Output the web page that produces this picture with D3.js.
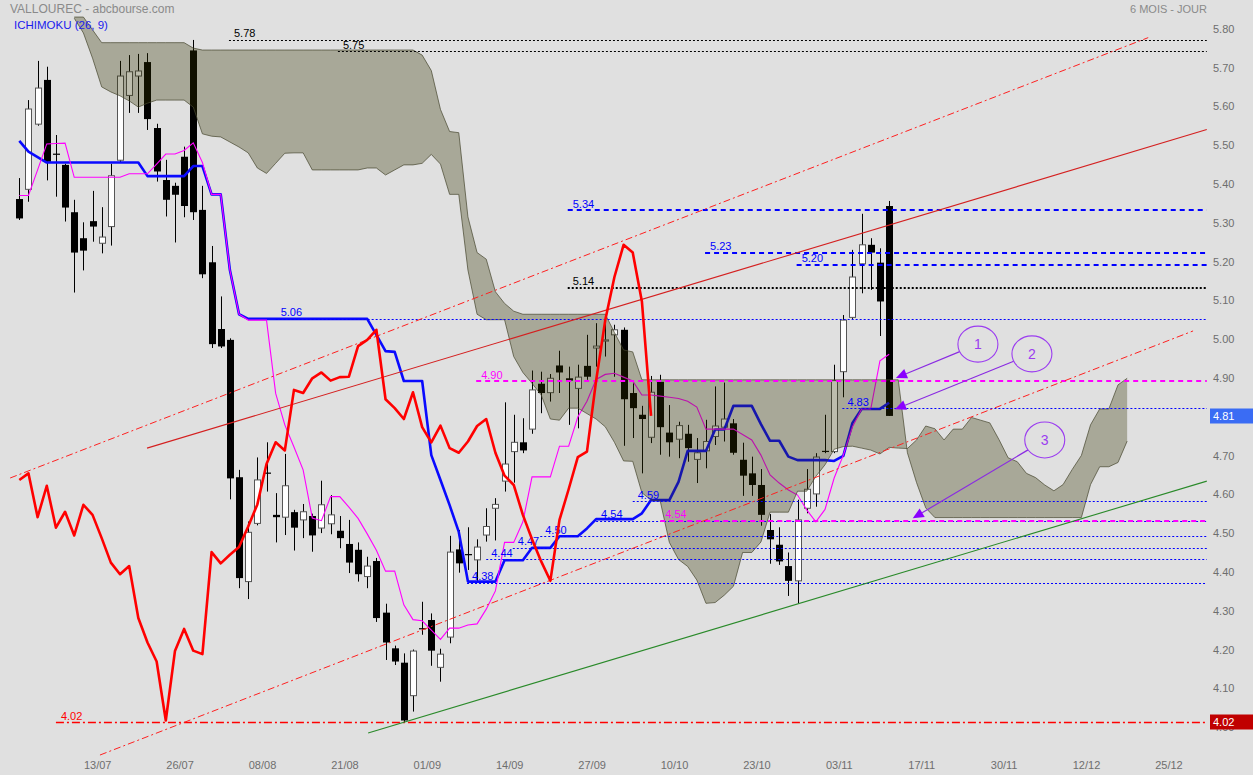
<!DOCTYPE html>
<html><head><meta charset="utf-8">
<script src="https://cdn.jsdelivr.net/npm/d3@7"></script>
<style>
html,body{margin:0;padding:0;background:#e0e0e0;}
svg{display:block;font-family:"Liberation Sans",Arial,Helvetica,sans-serif;}
</style></head><body>
<svg id="chart" width="1253" height="775"></svg>
<script>
// ---------- DATA (daily bars, index 0 = first visible session) ----------
const opens = [5.369,5.394,5.562,5.676,5.486,5.457,5.335,5.268,5.312,5.255,
5.298,5.469,5.636,5.686,5.722,5.552,5.418,5.403,5.478,5.752,
5.341,5.206,5.034,5.006,4.652,4.383,4.533,4.664,4.555,4.549,
4.562,4.542,4.552,4.521,4.532,4.514,4.480,4.465,4.396,4.436,
4.303,4.211,4.174,4.089,4.263,4.284,4.162,4.240,4.466,4.454,
4.439,4.503,4.572,4.642,4.718,4.742,4.776,4.893,4.870,4.940,
4.907,4.881,4.939,4.985,5.004,5.019,5.032,4.869,4.813,4.755,
4.898,4.767,4.750,4.764,4.698,4.720,4.757,4.781,4.791,4.697,
4.662,4.632,4.516,4.478,4.423,4.385,4.572,4.609,4.720,4.718,
4.924,5.064,5.202,5.251,5.205,5.351];
const highs = [5.423,5.624,5.725,5.710,5.534,5.460,5.367,5.309,5.390,5.348,
5.460,5.725,5.740,5.743,5.745,5.563,5.470,5.411,5.504,5.779,
5.403,5.248,5.118,5.010,4.671,4.538,4.703,4.742,4.611,4.712,
4.568,4.583,4.558,4.643,4.606,4.552,4.542,4.484,4.447,4.444,
4.326,4.218,4.198,4.208,4.331,4.301,4.210,4.501,4.516,4.523,
4.492,4.572,4.598,4.845,4.813,4.804,4.927,4.924,4.918,4.978,
4.937,4.942,5.019,5.049,5.068,5.045,5.038,4.894,4.836,4.913,
4.916,4.838,4.795,4.787,4.753,4.800,4.886,4.896,4.802,4.741,
4.705,4.673,4.557,4.523,4.458,4.594,4.673,4.714,4.813,4.942,
5.070,5.238,5.331,5.268,5.242,5.364];
const lows = [5.315,5.362,5.558,5.417,5.375,5.311,5.128,5.185,5.259,5.229,
5.249,5.462,5.591,5.591,5.547,5.414,5.324,5.257,5.322,5.315,
5.165,4.985,4.985,4.595,4.366,4.338,4.528,4.615,4.484,4.503,
4.463,4.495,4.460,4.508,4.505,4.469,4.405,4.383,4.366,4.279,
4.181,4.168,4.020,4.048,4.246,4.166,4.125,4.224,4.406,4.413,
4.383,4.486,4.489,4.615,4.638,4.714,4.764,4.817,4.847,4.869,
4.787,4.778,4.903,4.937,4.963,4.911,4.733,4.753,4.662,4.740,
4.710,4.705,4.701,4.692,4.637,4.675,4.735,4.744,4.710,4.604,
4.604,4.527,4.429,4.426,4.346,4.327,4.559,4.576,4.714,4.714,
4.858,5.060,5.126,5.135,5.016,4.810];
const closes = [5.319,5.601,5.655,5.465,5.483,5.347,5.231,5.236,5.298,5.271,
5.429,5.686,5.697,5.699,5.575,5.440,5.367,5.380,5.351,5.335,
5.175,4.995,4.989,4.649,4.392,4.510,4.645,4.662,4.549,4.630,
4.522,4.563,4.502,4.581,4.555,4.495,4.432,4.402,4.423,4.289,
4.226,4.177,4.025,4.204,4.261,4.205,4.196,4.459,4.430,4.452,
4.472,4.525,4.582,4.686,4.742,4.721,4.877,4.869,4.907,4.922,
4.901,4.910,4.911,4.990,5.006,5.032,4.853,4.830,4.802,4.871,
4.781,4.742,4.785,4.727,4.715,4.744,4.784,4.802,4.715,4.656,
4.632,4.555,4.492,4.435,4.385,4.542,4.621,4.704,4.718,4.901,
5.057,5.168,5.251,5.231,5.105,4.810];

// Ichimoku (26, 9)
const tenkan = [5.378,5.378,5.444,5.511,5.512,5.513,5.425,5.425,5.425,5.425,
5.425,5.425,5.434,5.434,5.434,5.459,5.485,5.485,5.494,5.514,
5.463,5.381,5.381,5.186,5.072,5.057,5.057,5.057,4.868,4.787,
4.730,4.671,4.547,4.540,4.602,4.602,4.575,4.546,4.506,4.464,
4.410,4.410,4.323,4.285,4.282,4.258,4.234,4.263,4.263,4.271,
4.274,4.312,4.359,4.484,4.484,4.537,4.653,4.653,4.653,4.732,
4.732,4.807,4.848,4.904,4.917,4.920,4.910,4.900,4.864,4.864,
4.861,4.858,4.855,4.848,4.833,4.776,4.776,4.776,4.776,4.762,
4.748,4.709,4.658,4.637,4.619,4.606,4.568,4.537,4.569,4.650,
4.709,4.782,4.828,4.828,4.952,4.969];
const kijun = [5.519,5.491,5.477,5.463,5.463,5.463,5.463,5.463,5.463,5.463,
5.463,5.463,5.463,5.463,5.428,5.428,5.428,5.428,5.428,5.454,
5.454,5.381,5.381,5.186,5.072,5.060,5.060,5.060,5.060,5.060,
5.060,5.060,5.060,5.060,5.060,5.060,5.060,5.060,5.060,5.019,
4.977,4.975,4.900,4.900,4.900,4.709,4.645,4.580,4.511,4.383,
4.383,4.383,4.383,4.438,4.438,4.438,4.470,4.470,4.470,4.500,
4.500,4.500,4.520,4.544,4.544,4.544,4.544,4.544,4.559,4.593,
4.593,4.593,4.640,4.720,4.720,4.720,4.775,4.775,4.836,4.836,
4.836,4.789,4.746,4.746,4.705,4.696,4.696,4.696,4.696,4.694,
4.707,4.792,4.828,4.828,4.828,4.844];
// cloud spans, already displaced 26 bars forward (index = bar where drawn)
const senkouA = [null,null,null,null,null,null,5.835,5.797,5.732,5.658,
5.645,5.635,5.622,5.606,5.616,5.624,5.624,5.624,5.624,5.606,
5.537,5.531,5.529,5.516,5.503,5.488,5.449,5.435,5.461,5.487,
5.488,5.488,5.444,5.444,5.444,5.444,5.444,5.444,5.449,5.449,
5.431,5.444,5.457,5.457,5.461,5.484,5.459,5.381,5.381,5.186,
5.072,5.058,5.058,5.058,4.963,4.922,4.894,4.864,4.802,4.799,
4.830,4.830,4.816,4.802,4.782,4.742,4.694,4.693,4.612,4.593,
4.591,4.484,4.440,4.422,4.387,4.327,4.329,4.348,4.371,4.458,
4.458,4.485,4.562,4.562,4.562,4.616,4.616,4.654,4.684,4.724,
4.731,4.732,4.727,4.722,4.712,4.729,4.727,4.726,4.748,4.784,
4.777,4.748,4.776,4.776,4.806,4.799,4.792,4.749,4.702,4.692,
4.662,4.651,4.632,4.617,4.633,4.672,4.708,4.787,4.828,4.828,
4.890,4.907];
const senkouB = [null,null,null,null,null,null,5.838,5.838,5.805,5.772,
5.772,5.772,5.772,5.772,5.772,5.772,5.772,5.772,5.772,5.758,
5.753,5.753,5.753,5.753,5.753,5.753,5.753,5.753,5.753,5.753,
5.753,5.753,5.753,5.753,5.753,5.753,5.753,5.753,5.753,5.753,
5.753,5.753,5.753,5.753,5.740,5.700,5.600,5.543,5.540,5.323,
5.231,5.214,5.130,5.100,5.080,5.072,5.072,5.072,5.072,5.072,
5.072,5.072,5.072,5.072,5.072,5.025,4.980,4.975,4.903,4.903,
4.903,4.903,4.903,4.903,4.903,4.903,4.903,4.903,4.903,4.903,
4.903,4.903,4.903,4.903,4.903,4.903,4.903,4.903,4.903,4.903,
4.903,4.903,4.903,4.903,4.903,4.903,4.903,4.715,4.638,4.573,
4.548,4.548,4.548,4.548,4.548,4.548,4.548,4.548,4.548,4.548,
4.548,4.548,4.548,4.548,4.548,4.548,4.548,4.633,4.679,4.679,
4.690,4.745];
const chikouShift = 26;

// date ticks (every 9 sessions)
const tickBars = [9,18,27,36,45,54,63,72,81,90,99,108,117,126];
const tickLabels = ["13/07","26/07","08/08","21/08","01/09","14/09","27/09","10/10","23/10","03/11","17/11","30/11","12/12","25/12"];
const priceTicks = [4.0,4.1,4.2,4.3,4.4,4.5,4.6,4.7,4.8,4.9,5.0,5.1,5.2,5.3,5.4,5.5,5.6,5.7,5.8];

// horizontal levels drawn on the chart
const levelValues = [5.78,5.75,5.34,5.23,5.20,5.14,5.06,4.90,4.83,4.59,4.54,4.54,4.50,4.47,4.44,4.38,4.02];
const levelStartBars = [22.9,34.8,59.9,74.9,84.9,59.9,28.0,49.9,89.9,67.0,63.0,70.0,56.9,53.9,51.0,48.9,4.0];
const levelKinds = ["extreme","extreme","resistance","resistance","resistance","pivot","kijun","cloud","kijun","kijun","kijun","cloud","kijun","kijun","kijun","kijun","low"];

// trend lines [bar, price]
const trendFrom = [[13.95,4.727],[-1.0,4.650],[8.81,3.936],[38.1,3.993]];
const trendTo   = [[129.7,5.548],[123.3,5.785],[128.2,5.029],[129.7,4.642]];
const trendKinds = ["mid","channel","channel","support"];

// annotations
const noteLabels = ["1","2","3"];
const noteCenters = [[104.7,4.995],[110.6,4.970],[112.0,4.748]];
const noteTargets = [[95.75,4.908],[95.64,4.827],[97.58,4.546]];

// right-edge price tags
const tagValues = [4.81,4.02];
const tagKinds = ["last","low"];

// ---------- RENDER ----------
const svg = d3.select("#chart");
const W = 1253, H = 775;
svg.append("rect").attr("width",W).attr("height",H).attr("fill","#e0e0e0");

const x = d3.scaleLinear().domain([0,95]).range([19.3,889.1]);
const y = d3.scaleLinear().domain([4.0,5.8]).range([730.2,31.8]);
const rightBar = 129.7;
const fmt = d3.format(".2f");

// candles
const gC = svg.append("g");
const idx = d3.range(closes.length);
gC.selectAll("line.w").data(idx).join("line")
  .attr("x1",i=>Math.round(x(i))+0.5).attr("x2",i=>Math.round(x(i))+0.5)
  .attr("y1",i=>y(highs[i])).attr("y2",i=>y(lows[i]))
  .attr("stroke","#000").attr("stroke-width",1);
gC.selectAll("rect.b").data(idx).join("rect")
  .attr("x",i=> closes[i]>=opens[i] ? Math.round(x(i))-2.5 : Math.round(x(i))-3)
  .attr("width",i=> closes[i]>=opens[i] ? 6 : 7)
  .attr("y",i=>y(Math.max(opens[i],closes[i])))
  .attr("height",i=>Math.max(1.2, y(Math.min(opens[i],closes[i]))-y(Math.max(opens[i],closes[i]))))
  .attr("fill",i=> closes[i]>=opens[i] ? "#ffffff" : "#000000")
  .attr("stroke",i=> closes[i]>=opens[i] ? "#555" : "none")
  .attr("stroke-width",1);

// kijun & tenkan
const lineGen = arr => d3.line().x((d,i)=>x(i)).y(d=>y(d))(arr);
svg.append("path").attr("d",lineGen(kijun)).attr("fill","none")
  .attr("stroke","#0a0aff").attr("stroke-width",2.6).attr("stroke-linejoin","round");
svg.append("path").attr("d",lineGen(tenkan)).attr("fill","none")
  .attr("stroke","#ff00ff").attr("stroke-width",1.1);

// cloud
const cIdx = d3.range(senkouA.length);
const area = d3.area().defined(i=>senkouA[i]!=null && senkouB[i]!=null)
  .x(i=>x(i)).y0(i=>y(senkouA[i])).y1(i=>y(senkouB[i]));
svg.append("path").attr("d",area(cIdx)).attr("fill","rgba(49,49,0,0.32)");
[senkouA,senkouB].forEach(s=>{
  svg.append("path")
    .attr("d",d3.line().defined(i=>s[i]!=null).x(i=>x(i)).y(i=>y(s[i]))(cIdx))
    .attr("fill","none").attr("stroke","rgba(70,70,45,0.7)").attr("stroke-width",1);
});

// levels
const levelStyle = {
  extreme:{c:"#000",w:1,d:"2,2",t:"#000"},
  resistance:{c:"#0000ff",w:2,d:"5,4",t:"#0000ff"},
  pivot:{c:"#000",w:2,d:"2,2",t:"#000"},
  kijun:{c:"#0000ff",w:1,d:"2,2",t:"#0000ff"},
  cloud:{c:"#ff00ff",w:2,d:"5,4",t:"#ff00ff"},
  low:{c:"#ff0000",w:1.4,d:"8,3,2,3",t:"#ff0000"}
};
const gL = svg.append("g");
levelValues.forEach((v,k)=>{
  const st = levelStyle[levelKinds[k]];
  const yy = Math.round(y(v))+ (st.w===2?0:0.5);
  gL.append("line").attr("x1",x(levelStartBars[k])).attr("x2",x(rightBar))
    .attr("y1",yy).attr("y2",yy).attr("stroke",st.c).attr("stroke-width",st.w)
    .attr("stroke-dasharray",st.d);
  gL.append("text").attr("x",x(levelStartBars[k])+5).attr("y",y(v)-2.5)
    .attr("font-size",11).attr("fill",st.t).text(fmt(v));
});

// trend lines
const trendStyle = {
  mid:{c:"#d42020",w:1.1,d:null},
  channel:{c:"#ff2020",w:1,d:"7,3,2,3"},
  support:{c:"#2a8a2a",w:1.1,d:null}
};
trendFrom.forEach((f,k)=>{
  const st = trendStyle[trendKinds[k]];
  const l = svg.append("line").attr("x1",x(f[0])).attr("y1",y(f[1]))
    .attr("x2",x(trendTo[k][0])).attr("y2",y(trendTo[k][1]))
    .attr("stroke",st.c).attr("stroke-width",st.w);
  if(st.d) l.attr("stroke-dasharray",st.d);
});

// chikou span (closes shifted back 26 sessions)
const chikou = closes.slice(chikouShift);
svg.append("path").attr("d",lineGen(chikou)).attr("fill","none")
  .attr("stroke","#ff0000").attr("stroke-width",2.6).attr("stroke-linejoin","round");

// annotations
const gA = svg.append("g");
const rx = 20, ry = 18;
noteCenters.forEach((c,k)=>{
  const cx = x(c[0]), cy = y(c[1]);
  const tx = x(noteTargets[k][0]), ty = y(noteTargets[k][1]);
  const dx = tx-cx, dy = ty-cy, L = Math.hypot(dx,dy);
  const ux = dx/L, uy = dy/L;
  const t = 1/Math.sqrt((ux*ux)/(rx*rx)+(uy*uy)/(ry*ry));
  const sx = cx+ux*t, sy = cy+uy*t;
  const ah = 11, aw = 5;
  const bx = tx-ux*ah, by = ty-uy*ah;
  gA.append("line").attr("x1",sx).attr("y1",sy).attr("x2",bx).attr("y2",by)
    .attr("stroke","#8a2be2").attr("stroke-width",1.2);
  gA.append("path").attr("d",`M${tx},${ty}L${bx-uy*aw},${by+ux*aw}L${bx+uy*aw},${by-ux*aw}Z`)
    .attr("fill","#8a00ff");
  gA.append("ellipse").attr("cx",cx).attr("cy",cy).attr("rx",rx).attr("ry",ry)
    .attr("fill","none").attr("stroke","#9b3cf0").attr("stroke-width",1.1);
  gA.append("text").attr("x",cx).attr("y",cy+5).attr("text-anchor","middle")
    .attr("font-size",14).attr("fill","#9b3cf0").text(noteLabels[k]);
});

// price axis labels
svg.append("g").selectAll("text").data(priceTicks).join("text")
  .attr("x",1213).attr("y",d=>y(d)+1).attr("font-size",11).attr("fill","#6e6e6e")
  .text(d=>fmt(d));

// date labels
svg.append("g").selectAll("text").data(tickBars).join("text")
  .attr("x",(d)=>x(d)-4).attr("y",769).attr("text-anchor","middle")
  .attr("font-size",11).attr("fill","#6e6e6e")
  .text((d,i)=>tickLabels[i]);

// price tags
const tagColor = {last:"#3a6cf4",low:"#c00000"};
tagValues.forEach((v,k)=>{
  const yy = y(v);
  svg.append("rect").attr("x",1210).attr("y",Math.round(yy)-7.5).attr("width",43).attr("height",15)
    .attr("fill",tagColor[tagKinds[k]]);
  svg.append("text").attr("x",1213).attr("y",Math.round(yy)+4).attr("font-size",11)
    .attr("fill","#fff").text(fmt(v));
});

// titles
svg.append("text").attr("x",10).attr("y",13).attr("font-size",12).attr("fill","#8a8a8a")
  .text("VALLOUREC - abcbourse.com");
svg.append("text").attr("x",14).attr("y",29).attr("font-size",11.5).attr("fill","#1a1aee")
  .text("ICHIMOKU (26, 9)");
svg.append("text").attr("x",1207).attr("y",13).attr("font-size",11).attr("fill","#8a8a8a")
  .attr("text-anchor","end").text("6 MOIS - JOUR");
</script>
</body></html>
